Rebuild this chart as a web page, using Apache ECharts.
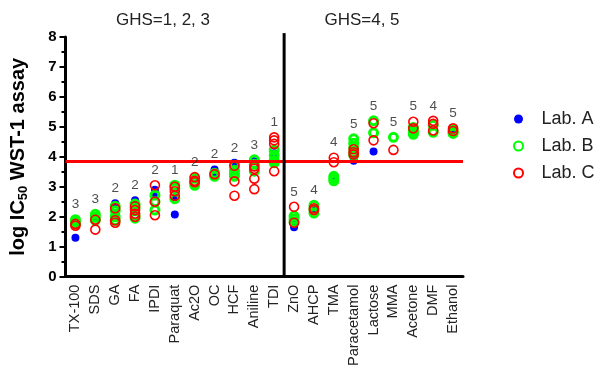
<!DOCTYPE html>
<html>
<head>
<meta charset="utf-8">
<script src="https://cdn.jsdelivr.net/npm/echarts@6/dist/echarts.min.js"></script>
<style>
  html, body { margin: 0; padding: 0; background: #ffffff; }
  #chart { width: 601px; height: 369px; }
</style>
</head>
<body>
<div id="chart"></div>
<script>
// Test compounds, in plotting order
const compounds = ['TX-100', 'SDS', 'GA', 'FA', 'IPDI', 'Paraquat', 'Ac2O', 'OC', 'HCF', 'Aniline', 'TDI',
                   'ZnO', 'AHCP', 'TMA', 'Paracetamol', 'Lactose', 'MMA', 'Acetone', 'DMF', 'Ethanol'];

// GHS category printed above each compound
const ghsClass = [3, 3, 2, 2, 2, 1, 2, 2, 2, 3, 1, 5, 4, 4, 5, 5, 5, 5, 4, 5];

// log IC50 values (WST-1 assay) per compound, one array per laboratory
const labA = [
  [1.3], [1.98], [2.45, 2.05], [2.55, 2.15], [2.9, 2.72], [2.65, 2.07], [], [3.58, 3.42], [3.8], [3.85], [4.12],
  [1.75, 1.65], [2.25], [3.27], [3.87], [4.18], [], [], [], [4.88]
];
const labB = [
  [1.9, 1.82, 1.75], [2.08, 1.98, 1.88], [2.35, 2.2, 2.0, 1.87], [2.42, 2.3, 2.05, 1.95], [2.72, 2.5, 2.22],
  [3.05, 2.95, 2.6], [3.28, 3.15, 3.05], [3.45, 3.35], [3.72, 3.55, 3.45, 3.35], [3.9, 3.75, 3.52],
  [4.22, 4.05, 3.88, 3.8],
  [2.02, 1.92, 1.82], [2.38, 2.25, 2.12], [3.35, 3.27, 3.2], [4.6, 4.45, 4.3, 4.15, 4.05], [5.2, 4.8], [4.65],
  [4.98, 4.88, 4.8, 4.75], [5.05, 4.82], [4.9, 4.82, 4.78]
];
const labC = [
  [1.76, 1.7], [1.9, 1.57], [2.28, 1.88, 1.8], [2.35, 2.22, 2.1, 2.0], [3.05, 2.5, 2.05], [3.0, 2.85, 2.7],
  [3.32, 3.2, 3.15], [3.42], [3.7, 3.18, 2.7], [3.68, 3.6, 3.27, 2.92], [4.65, 4.55, 4.43, 3.52],
  [2.33, 1.8], [2.28, 2.22], [3.97, 3.82], [4.25, 4.15, 4.08], [5.12, 4.55], [4.23], [5.17, 4.95],
  [5.2, 5.1, 4.88], [4.95, 4.86]
];

// Classification cut-off and grouping
const cutoff = 3.85;
const groupTitles = ['GHS=1, 2, 3', 'GHS=4, 5'];
const firstGroupSize = 11;
const yTicks = [0, 8, 1];

function toPoints(perCompound) {
  const pts = [];
  perCompound.forEach((vals, i) => vals.forEach(v => pts.push([i, v])));
  return pts;
}
const topValues = compounds.map((_, i) => Math.max(...labA[i], ...labB[i], ...labC[i]));

const chart = echarts.init(document.getElementById('chart'), null, { renderer: 'canvas' });

const fontFamily = '"Liberation Sans", Arial, Helvetica, sans-serif';

chart.setOption({
  animation: false,
  backgroundColor: '#ffffff',
  textStyle: { fontFamily: fontFamily },
  grid: { left: 59, top: 37, width: 404, height: 240, containLabel: false },
  graphic: [
    { type: 'text', x: 163, y: 20, style: { text: groupTitles[0], font: '17px ' + fontFamily, fill: '#222', textAlign: 'center', textVerticalAlign: 'middle' } },
    { type: 'text', x: 362, y: 20, style: { text: groupTitles[1], font: '17px ' + fontFamily, fill: '#222', textAlign: 'center', textVerticalAlign: 'middle' } }
  ],
  legend: {
    orient: 'vertical',
    left: 508,
    top: 105,
    itemWidth: 36,
    itemHeight: 9,
    itemGap: 9,
    textStyle: { fontSize: 18, color: '#222', fontFamily: fontFamily },
    data: ['Lab. A', 'Lab. B', 'Lab. C']
  },
  xAxis: [
    {
      type: 'category',
      data: compounds,
      boundaryGap: true,
      axisLine: { lineStyle: { color: '#000', width: 3 } },
      axisTick: { show: false },
      axisLabel: { interval: 0, rotate: 90, fontSize: 14.5, color: '#222', margin: 8 },
      splitLine: { show: false }
    },
    {
      type: 'value',
      min: 0,
      max: compounds.length,
      show: false
    }
  ],
  yAxis: {
    type: 'value',
    min: yTicks[0],
    max: yTicks[1],
    interval: yTicks[2],
    name: '{m|log IC}{s|50}{m| WST-1 assay}',
    nameLocation: 'middle',
    nameRotate: 90,
    nameGap: 36,
    nameTextStyle: {
      rich: {
        m: { fontSize: 20, fontWeight: 'bold', color: '#000', fontFamily: fontFamily },
        s: { fontSize: 13, fontWeight: 'bold', color: '#000', fontFamily: fontFamily, padding: [10, 0, 0, 0] }
      }
    },
    axisLine: { show: true, lineStyle: { color: '#000', width: 3 } },
    axisTick: { show: true, length: 6, lineStyle: { color: '#000', width: 2 } },
    minorTick: { show: true, splitNumber: 2, length: 4, lineStyle: { color: '#000', width: 2 } },
    axisLabel: { fontSize: 15, fontWeight: 'bold', color: '#000', margin: 9 },
    splitLine: { show: false }
  },
  series: [
    {
      name: 'Lab. A',
      type: 'scatter',
      symbol: 'circle',
      symbolSize: 8,
      itemStyle: { color: '#0000ff', opacity: 1 },
      data: toPoints(labA),
      z: 2
    },
    {
      name: 'Lab. B',
      type: 'scatter',
      symbol: 'circle',
      symbolSize: 8,
      itemStyle: { color: 'rgba(0,0,0,0)', borderColor: '#00ff00', borderWidth: 3, opacity: 1 },
      data: toPoints(labB),
      z: 3
    },
    {
      name: 'Lab. C',
      type: 'scatter',
      symbol: 'circle',
      symbolSize: 9,
      itemStyle: { color: 'rgba(0,0,0,0)', borderColor: '#ff0000', borderWidth: 1.6, opacity: 1 },
      data: toPoints(labC),
      z: 4,
      markLine: {
        silent: true,
        symbol: ['none', 'none'],
        label: { show: false },
        lineStyle: { color: '#ff0000', width: 3, type: 'solid' },
        data: [{ yAxis: cutoff }]
      }
    },
    {
      name: 'GHS',
      type: 'scatter',
      symbolSize: 2,
      itemStyle: { color: 'rgba(0,0,0,0)' },
      label: {
        show: true,
        position: 'top',
        distance: 7,
        fontSize: 13.5,
        color: '#222',
        formatter: p => String(ghsClass[p.dataIndex])
      },
      data: topValues.map((v, i) => [i, v]),
      z: 5
    },
    {
      name: 'divider',
      type: 'line',
      xAxisIndex: 1,
      clip: false,
      symbol: 'none',
      lineStyle: { color: '#000', width: 3 },
      data: [[firstGroupSize, yTicks[0]], [firstGroupSize, yTicks[1] + 0.13]],
      z: 6
    }
  ]
});
</script>
</body>
</html>
